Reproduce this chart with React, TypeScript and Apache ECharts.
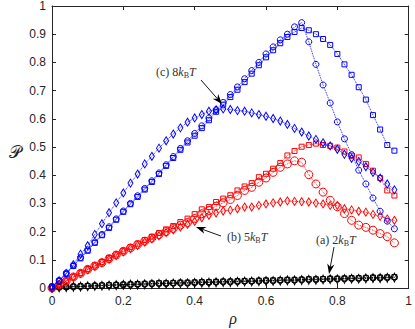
import React, { useEffect, useRef } from "react";
import * as echarts from "echarts";

const rho = [0, 0.02, 0.04, 0.06, 0.08, 0.1, 0.12, 0.14, 0.16, 0.18, 0.2, 0.22, 0.24, 0.26, 0.28, 0.3, 0.32, 0.34, 0.36, 0.38, 0.4, 0.42, 0.44, 0.46, 0.48, 0.5, 0.52, 0.54, 0.56, 0.58, 0.6, 0.62, 0.64, 0.66, 0.68, 0.7, 0.72, 0.74, 0.76, 0.78, 0.8, 0.82, 0.84, 0.86, 0.88, 0.9, 0.92, 0.94, 0.96];

const xTickLabels = ["0", "0.2", "0.4", "0.6", "0.8", "1"];
const yTickLabels = ["0", "0.1", "0.2", "0.3", "0.4", "0.5", "0.6", "0.7", "0.8", "0.9", "1"];

// (a) 2kBT — black
const blackCircles = [0, 0.003, 0.004, 0.005, 0.006, 0.007, 0.008, 0.009, 0.01, 0.011, 0.012, 0.012, 0.013, 0.014, 0.015, 0.016, 0.016, 0.017, 0.018, 0.018, 0.019, 0.02, 0.02, 0.021, 0.022, 0.022, 0.023, 0.024, 0.024, 0.025, 0.026, 0.026, 0.027, 0.028, 0.028, 0.029, 0.03, 0.03, 0.031, 0.032, 0.032, 0.033, 0.034, 0.034, 0.035, 0.036, 0.036, 0.037, 0.038];
const blackSquares = [0, 0.003, 0.004, 0.005, 0.006, 0.007, 0.008, 0.009, 0.01, 0.011, 0.012, 0.013, 0.014, 0.015, 0.016, 0.017, 0.017, 0.018, 0.019, 0.019, 0.02, 0.021, 0.021, 0.022, 0.023, 0.023, 0.024, 0.025, 0.025, 0.026, 0.027, 0.027, 0.028, 0.029, 0.029, 0.03, 0.031, 0.031, 0.032, 0.033, 0.033, 0.034, 0.035, 0.035, 0.036, 0.037, 0.037, 0.038, 0.039];
const blackDiamonds = [0, 0.002, 0.003, 0.004, 0.005, 0.006, 0.007, 0.008, 0.009, 0.01, 0.011, 0.012, 0.012, 0.013, 0.014, 0.015, 0.015, 0.016, 0.017, 0.017, 0.018, 0.019, 0.019, 0.02, 0.021, 0.021, 0.022, 0.023, 0.023, 0.024, 0.025, 0.025, 0.026, 0.027, 0.027, 0.028, 0.029, 0.029, 0.03, 0.031, 0.031, 0.032, 0.033, 0.033, 0.034, 0.035, 0.035, 0.036, 0.037];

// (b) 5kBT — red
const redCircles = [0, 0.012, 0.025, 0.039, 0.052, 0.066, 0.078, 0.09, 0.104, 0.117, 0.13, 0.142, 0.154, 0.166, 0.177, 0.189, 0.2, 0.211, 0.223, 0.232, 0.246, 0.263, 0.275, 0.29, 0.302, 0.314, 0.328, 0.346, 0.357, 0.375, 0.39, 0.41, 0.428, 0.44, 0.451, 0.446, 0.402, 0.369, 0.34, 0.311, 0.288, 0.264, 0.24, 0.223, 0.215, 0.205, 0.193, 0.182, 0.16];
const redSquares = [0, 0.013, 0.026, 0.04, 0.053, 0.067, 0.08, 0.092, 0.106, 0.119, 0.132, 0.145, 0.157, 0.17, 0.182, 0.195, 0.208, 0.22, 0.234, 0.246, 0.262, 0.279, 0.287, 0.305, 0.317, 0.329, 0.346, 0.36, 0.372, 0.393, 0.405, 0.423, 0.443, 0.47, 0.486, 0.501, 0.507, 0.512, 0.507, 0.504, 0.498, 0.484, 0.469, 0.463, 0.44, 0.416, 0.39, 0.346, 0.328];
const redDiamonds = [0, 0.012, 0.024, 0.038, 0.051, 0.064, 0.077, 0.089, 0.102, 0.115, 0.128, 0.14, 0.151, 0.163, 0.174, 0.185, 0.196, 0.206, 0.216, 0.226, 0.236, 0.249, 0.258, 0.266, 0.273, 0.276, 0.281, 0.287, 0.287, 0.293, 0.298, 0.302, 0.305, 0.309, 0.307, 0.306, 0.305, 0.301, 0.298, 0.293, 0.293, 0.281, 0.277, 0.272, 0.269, 0.261, 0.254, 0.245, 0.24];

// (c) 8kBT — blue
const blueCircles = [0.005, 0.027, 0.053, 0.08, 0.108, 0.135, 0.163, 0.19, 0.217, 0.245, 0.273, 0.3, 0.327, 0.353, 0.38, 0.408, 0.437, 0.466, 0.495, 0.522, 0.548, 0.575, 0.603, 0.632, 0.658, 0.686, 0.713, 0.742, 0.771, 0.8, 0.83, 0.855, 0.88, 0.9, 0.926, 0.941, 0.873, 0.793, 0.72, 0.656, 0.589, 0.529, 0.473, 0.418, 0.369, 0.319, 0.272, 0.237, 0.21];
const blueSquares = [0.005, 0.025, 0.05, 0.078, 0.105, 0.132, 0.16, 0.187, 0.213, 0.242, 0.27, 0.297, 0.323, 0.349, 0.376, 0.404, 0.433, 0.461, 0.49, 0.516, 0.54, 0.567, 0.595, 0.625, 0.65, 0.677, 0.703, 0.73, 0.76, 0.79, 0.818, 0.843, 0.868, 0.89, 0.908, 0.922, 0.914, 0.9, 0.883, 0.862, 0.83, 0.793, 0.756, 0.712, 0.668, 0.613, 0.562, 0.507, 0.487];
const blueDiamonds = [0, 0.026, 0.052, 0.083, 0.12, 0.15, 0.19, 0.228, 0.267, 0.302, 0.337, 0.372, 0.404, 0.44, 0.467, 0.496, 0.522, 0.546, 0.568, 0.588, 0.603, 0.615, 0.627, 0.632, 0.635, 0.633, 0.629, 0.627, 0.621, 0.615, 0.609, 0.601, 0.592, 0.58, 0.566, 0.553, 0.539, 0.527, 0.515, 0.504, 0.492, 0.474, 0.46, 0.448, 0.43, 0.41, 0.39, 0.369, 0.348];

const BLACK = "#000000";
const RED = "#ff0000";
const BLUE = "#0000ff";
const SERIF = "'Liberation Serif', 'Times New Roman', serif";

function mkSeries(name: string, vals: number[], color: string, symbol: string, size: any, z: number) {
  return {
    name,
    type: "line",
    xAxisIndex: 0,
    yAxisIndex: 0,
    data: vals.map((v, i) => [rho[i], v]),
    symbol,
    symbolSize: size,
    showSymbol: true,
    z,
    itemStyle: { color: "rgba(0,0,0,0)", borderColor: color, borderWidth: 1 },
    lineStyle: { color, width: 0.9, type: "dotted" },
    emphasis: { disabled: true },
  };
}

function arrow(x1: number, y1: number, tx: number, ty: number) {
  const dx = tx - x1;
  const dy = ty - y1;
  const L = Math.sqrt(dx * dx + dy * dy);
  const ux = dx / L;
  const uy = dy / L;
  const px = -uy;
  const py = ux;
  const hl = 10;
  const hw = 3.6;
  const bx = tx - hl * ux;
  const by = ty - hl * uy;
  const nx = tx - 7 * ux;
  const ny = ty - 7 * uy;
  return [
    { type: "line", shape: { x1, y1, x2: nx, y2: ny }, style: { stroke: "#000", lineWidth: 0.9 }, z: 100 },
    {
      type: "polygon",
      shape: { points: [[tx, ty], [bx + hw * px, by + hw * py], [nx, ny], [bx - hw * px, by - hw * py]] },
      style: { fill: "#000" },
      z: 100,
    },
  ];
}

const richStyles = {
  n: { fontFamily: SERIF, fontSize: 12, lineHeight: 14, fill: "#333" },
  i: { fontFamily: SERIF, fontSize: 12, fontStyle: "italic", lineHeight: 14, fill: "#333" },
  s: { fontFamily: SERIF, fontSize: 8, lineHeight: 8, verticalAlign: "bottom", fill: "#333" },
};

function label(txt: string, x: number, y: number) {
  return {
    type: "text",
    x,
    y,
    z: 100,
    style: {
      text: `{n|${txt}}{i|k}{s|B}{i|T}`,
      fontFamily: SERIF,
      fontSize: 12,
      fill: "#333",
      rich: richStyles,
      verticalAlign: "middle",
      align: "left",
    },
  };
}

export default function App() {
  const ref = useRef<HTMLDivElement>(null);
  useEffect(() => {
    if (!ref.current) return;
    const chart = echarts.init(ref.current, undefined, { renderer: "svg" });
    const axisCol = "#262626";
    const xBase = {
      type: "value",
      min: 0,
      max: 1,
      interval: 0.2,
      axisLine: { show: true, onZero: false, lineStyle: { color: axisCol, width: 1 } },
      axisTick: { show: true, inside: true, length: 4, lineStyle: { color: axisCol } },
      splitLine: { show: false },
    };
    const yBase = {
      type: "value",
      min: 0,
      max: 1,
      interval: 0.1,
      axisLine: { show: true, onZero: false, lineStyle: { color: axisCol, width: 1 } },
      axisTick: { show: true, inside: true, length: 4, lineStyle: { color: axisCol } },
      splitLine: { show: false },
    };
    const option: any = {
      animation: false,
      grid: { left: 52, right: 2, top: 4, bottom: 41, containLabel: false },
      xAxis: [
        {
          ...xBase,
          position: "bottom",
          axisLabel: {
            fontFamily: "Liberation Sans",
            fontSize: 12,
            color: axisCol,
            margin: 7,
            formatter: (_v: number, i: number) => xTickLabels[i],
          },
        },
        { ...xBase, position: "top", axisLabel: { show: false } },
      ],
      yAxis: [
        {
          ...yBase,
          position: "left",
          axisLabel: {
            fontFamily: "Liberation Sans",
            fontSize: 12,
            color: axisCol,
            margin: 6,
            formatter: (_v: number, i: number) => yTickLabels[i],
          },
        },
        { ...yBase, position: "right", axisLabel: { show: false } },
      ],
      series: [
        mkSeries("a-circ", blackCircles, BLACK, "circle", 6, 2),
        mkSeries("a-sq", blackSquares, BLACK, "rect", 5, 2),
        mkSeries("a-dia", blackDiamonds, BLACK, "diamond", [4, 9], 2),
        mkSeries("b-circ", redCircles, RED, "circle", 8, 3),
        mkSeries("b-sq", redSquares, RED, "rect", 5, 3),
        mkSeries("b-dia", redDiamonds, RED, "diamond", [5, 8], 3),
        mkSeries("c-circ", blueCircles, BLUE, "circle", 6, 4),
        mkSeries("c-sq", blueSquares, BLUE, "rect", 5, 4),
        mkSeries("c-dia", blueDiamonds, BLUE, "diamond", [5, 8], 4),
      ],
      graphic: [
        label("(c) 8", 156, 72),
        label("(b) 5", 227, 237),
        label("(a) 2", 316, 240),
        ...arrow(201, 80, 222, 104),
        ...arrow(221, 236, 196, 227),
        ...arrow(334, 247, 329, 274),
        {
          type: "text",
          x: 15,
          y: 152,
          z: 100,
          style: {
            text: "𝒫",
            fontFamily: "DejaVu Serif",
            fontSize: 17,
            fill: "#222",
            align: "center",
            verticalAlign: "middle",
          },
        },
        {
          type: "text",
          x: 233,
          y: 318,
          z: 100,
          style: {
            text: "ρ",
            fontFamily: SERIF,
            fontStyle: "italic",
            fontSize: 16,
            fill: "#222",
            align: "center",
            verticalAlign: "middle",
          },
        },
      ],
    };
    chart.setOption(option);
    return () => chart.dispose();
  }, []);
  return (
    <div
      ref={ref}
      style={{ position: "fixed", left: 0, top: 0, width: 415, height: 329, background: "#fff" }}
    />
  );
}
